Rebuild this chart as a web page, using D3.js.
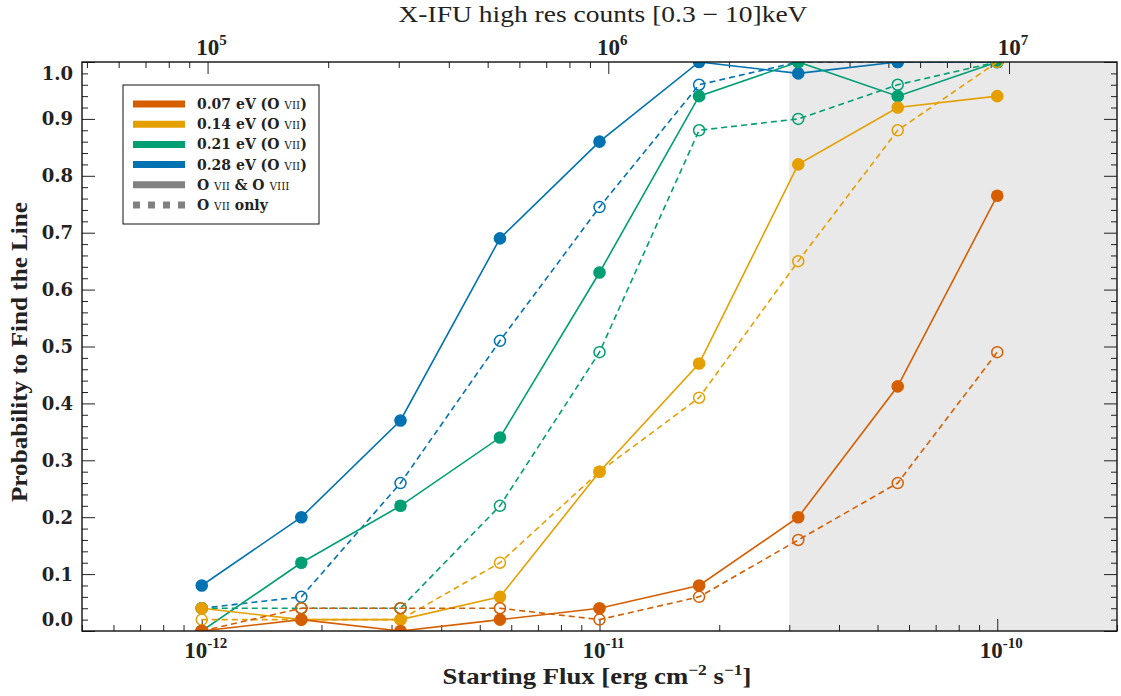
<!DOCTYPE html>
<html lang="en">
<head>
<meta charset="UTF-8" />
<title>Probability to Find the Line</title>
<style>
	body { margin: 0; background: #fff; }
	text { fill: #222; }
</style>
</head>
<body>
<svg id="svg" width="1121" height="696"></svg>

<script src="https://d3js.org/d3.v7.min.js"></script>
<script>
// starting flux of each run [erg cm^-2 s^-1]
const fluxes = [1e-12, 1.78e-12, 3.16e-12, 5.62e-12, 1e-11, 1.78e-11, 3.16e-11, 5.62e-11, 1e-10];

// line widths (eV) and their colours
const widths = ['0.07', '0.14', '0.21', '0.28'];
const colors = ['#d55e00', '#e69f00', '#009e73', '#0072b2'];

// O VII & O VIII  (solid line, filled marker)
const both007 = [0.0, 0.02, 0.0, 0.02, 0.04, 0.08, 0.2, 0.43, 0.765];
const both014 = [0.04, 0.02, 0.02, 0.06, 0.28, 0.47, 0.82, 0.92, 0.94];
const both021 = [0.0, 0.12, 0.22, 0.34, 0.63, 0.94, 1.0, 0.94, 1.0];
const both028 = [0.08, 0.2, 0.37, 0.69, 0.86, 1.0, 0.98, 1.0, 1.0];

// O VII only  (dashed line, open marker)
const only007 = [0.0, 0.04, 0.04, 0.04, 0.02, 0.06, 0.16, 0.26, 0.49];
const only014 = [0.02, 0.02, 0.02, 0.12, 0.28, 0.41, 0.65, 0.88, 1.0];
const only021 = [0.04, 0.04, 0.04, 0.22, 0.49, 0.88, 0.9, 0.96, 1.0];
const only028 = [0.04, 0.06, 0.26, 0.51, 0.745, 0.96, 1.0, 1.0, 1.0];

const yTicks = [0, 0.1, 0.2, 0.3, 0.4, 0.5, 0.6, 0.7, 0.8, 0.9, 1.0];
const xLabelTicks = [1e-12, 1e-11, 1e-10];
const topLabelTicks = [1e5, 1e6, 1e7];
const shadeFrom = 3e-11;

const series = [
	{ w: widths[0], c: colors[0], both: both007, only: only007 },
	{ w: widths[1], c: colors[1], both: both014, only: only014 },
	{ w: widths[2], c: colors[2], both: both021, only: only021 },
	{ w: widths[3], c: colors[3], both: both028, only: only028 },
];

const L = 82, R = 1117, T = 62, B = 631;
const svg = d3.select('#svg');

const x = d3.scaleLog().domain([5e-13, 2e-10]).range([L, R]);
const xTop = d3.scaleLog().domain([4.86e4, 1.86e7]).range([L, R]);
const y = d3.scaleLinear().domain([0, 1]).range([B, T]);

// grey band
svg.append('rect')
	.attr('x', x(shadeFrom)).attr('y', T)
	.attr('width', R - x(shadeFrom)).attr('height', B - T)
	.attr('fill', '#e9e9e9');

svg.append('clipPath').attr('id', 'clip')
	.append('rect').attr('x', L).attr('y', T).attr('width', R - L).attr('height', B - T);

const isPow = (v) => Math.abs(Math.log10(v) - Math.round(Math.log10(v))) < 1e-6;

// ticks (all pointing inwards)
function ticks(axis, tx, ty) {
	const g = svg.append('g').attr('transform', `translate(${tx},${ty})`).call(axis);
	g.select('.domain').remove();
	g.selectAll('line').attr('stroke', '#222').attr('stroke-width', 1);
	g.selectAll('text').remove();
}
const xMinor = x.ticks().filter((d) => !isPow(d));
const xMajor = x.ticks().filter(isPow);
const topMinor = xTop.ticks().filter((d) => !isPow(d));
const topMajor = xTop.ticks().filter(isPow);
const yMinor = d3.range(0, 1.001, 0.02).filter((d) => Math.abs(d * 10 - Math.round(d * 10)) > 1e-6);

ticks(d3.axisBottom(x).tickValues(xMinor).tickSize(-6).tickSizeOuter(0), 0, B);
ticks(d3.axisBottom(x).tickValues(xMajor).tickSize(-12).tickSizeOuter(0), 0, B);
ticks(d3.axisTop(xTop).tickValues(topMinor).tickSize(-6).tickSizeOuter(0), 0, T);
ticks(d3.axisTop(xTop).tickValues(topMajor).tickSize(-12).tickSizeOuter(0), 0, T);
ticks(d3.axisLeft(y).tickValues(yMinor).tickSize(-6).tickSizeOuter(0), L, 0);
ticks(d3.axisLeft(y).tickValues(yTicks).tickSize(-13).tickSizeOuter(0), L, 0);
ticks(d3.axisRight(y).tickValues(yMinor).tickSize(-6).tickSizeOuter(0), R, 0);
ticks(d3.axisRight(y).tickValues(yTicks).tickSize(-13).tickSizeOuter(0), R, 0);

// y tick labels (end labels pulled inside the frame)
svg.append('g').selectAll('text').data(yTicks).enter().append('text')
	.attr('x', 73)
	.attr('y', (d) => y(d === 0 ? 0.02 : d === 1 ? 0.98 : d))
	.attr('dy', '0.36em')
	.attr('text-anchor', 'end')
	.style('font-family', 'DejaVu Serif')
	.style('font-weight', 'bold')
	.style('font-size', '18px')
	.text((d) => d.toFixed(1));

// power-of-ten labels
function powLabels(data, scale, yy) {
	const t = svg.append('g').selectAll('text').data(data).enter().append('text')
		.attr('x', (d) => scale(d) + 4)
		.attr('y', yy)
		.attr('text-anchor', 'middle')
		.style('font-family', 'Liberation Serif')
		.style('font-weight', 'bold')
		.style('font-size', '23px');
	t.append('tspan').text('10');
	t.append('tspan').attr('dy', -10).style('font-size', '15px')
		.text((d) => String(Math.round(Math.log10(d))));
}
powLabels(xLabelTicks, x, 658);
powLabels(topLabelTicks, xTop, 55);

// series: solid + filled, dashed + open
const line = d3.line().x((d) => x(d[0])).y((d) => y(d[1]));
const plot = svg.append('g').attr('clip-path', 'url(#clip)');
series.slice().reverse().forEach((s) => {
	const solid = fluxes.map((f, i) => [f, s.both[i]]);
	const dashed = fluxes.map((f, i) => [f, s.only[i]]);
	plot.append('path').attr('d', line(solid))
		.attr('fill', 'none').attr('stroke', s.c).attr('stroke-width', 1.6);
	plot.append('path').attr('d', line(dashed))
		.attr('fill', 'none').attr('stroke', s.c).attr('stroke-width', 1.6)
		.attr('stroke-dasharray', '6,4');
	plot.append('g').selectAll('circle').data(solid).enter().append('circle')
		.attr('cx', (d) => x(d[0])).attr('cy', (d) => y(d[1]))
		.attr('r', 6.3).attr('fill', s.c);
	plot.append('g').selectAll('circle').data(dashed).enter().append('circle')
		.attr('cx', (d) => x(d[0])).attr('cy', (d) => y(d[1]))
		.attr('r', 5.5).attr('fill', 'none').attr('stroke', s.c).attr('stroke-width', 1.5);
});

// frame
svg.append('rect')
	.attr('x', L).attr('y', T).attr('width', R - L).attr('height', B - T)
	.attr('fill', 'none').attr('stroke', '#111').attr('stroke-width', 1.4);

// legend
const leg = svg.append('g');
leg.append('rect').attr('x', 123).attr('y', 85).attr('width', 196).attr('height', 139)
	.attr('fill', '#fff').attr('stroke', '#111').attr('stroke-width', 1);

const rows = series.map((s) => ({ c: s.c, dash: null, parts: [[s.w + ' eV (O ', 'b'], ['vii', 's'], [')', 'b']] }));
rows.push({ c: '#808080', dash: null, parts: [['O ', 'b'], ['vii', 's'], [' & O ', 'b'], ['viii', 's']] });
rows.push({ c: '#808080', dash: '7,8', parts: [['O ', 'b'], ['vii', 's'], [' only', 'b']] });

rows.forEach((r, i) => {
	const yy = 104 + i * 20.2;
	leg.append('line').attr('x1', 133).attr('x2', 185).attr('y1', yy).attr('y2', yy)
		.attr('stroke', r.c).attr('stroke-width', 7)
		.attr('stroke-dasharray', r.dash);
	const t = leg.append('text').attr('x', 197).attr('y', yy).attr('dy', '0.36em')
		.attr('xml:space', 'preserve')
		.style('font-family', 'DejaVu Serif').style('font-size', '14px');
	r.parts.forEach((p) => {
		const sp = t.append('tspan').text(p[1] === 's' ? p[0].toUpperCase() : p[0]);
		if (p[1] === 'b') sp.style('font-weight', 'bold');
		else sp.style('font-size', '10.5px');
	});
});

// titles
svg.append('text').attr('x', 603).attr('y', 22).attr('text-anchor', 'middle')
	.attr('textLength', 409).attr('lengthAdjust', 'spacingAndGlyphs')
	.style('font-family', 'Liberation Serif').style('font-size', '23px')
	.text('X-IFU high res counts [0.3 − 10]keV');

const xl = svg.append('text').attr('x', 597).attr('y', 684).attr('text-anchor', 'middle')
	.attr('textLength', 309).attr('lengthAdjust', 'spacingAndGlyphs')
	.style('font-family', 'Liberation Serif').style('font-size', '23px')
	.style('font-weight', 'bold');
xl.append('tspan').text('Starting Flux [erg cm');
xl.append('tspan').attr('dy', -9).style('font-size', '15px').text('−2');
xl.append('tspan').attr('dy', 9).text(' s');
xl.append('tspan').attr('dy', -9).style('font-size', '15px').text('−1');
xl.append('tspan').attr('dy', 9).text(']');

svg.append('text')
	.attr('transform', 'translate(27,352) rotate(-90)')
	.attr('text-anchor', 'middle')
	.attr('textLength', 300).attr('lengthAdjust', 'spacingAndGlyphs')
	.style('font-family', 'Liberation Serif').style('font-size', '23px')
	.style('font-weight', 'bold')
	.text('Probability to Find the Line');
</script>
</body>
</html>
